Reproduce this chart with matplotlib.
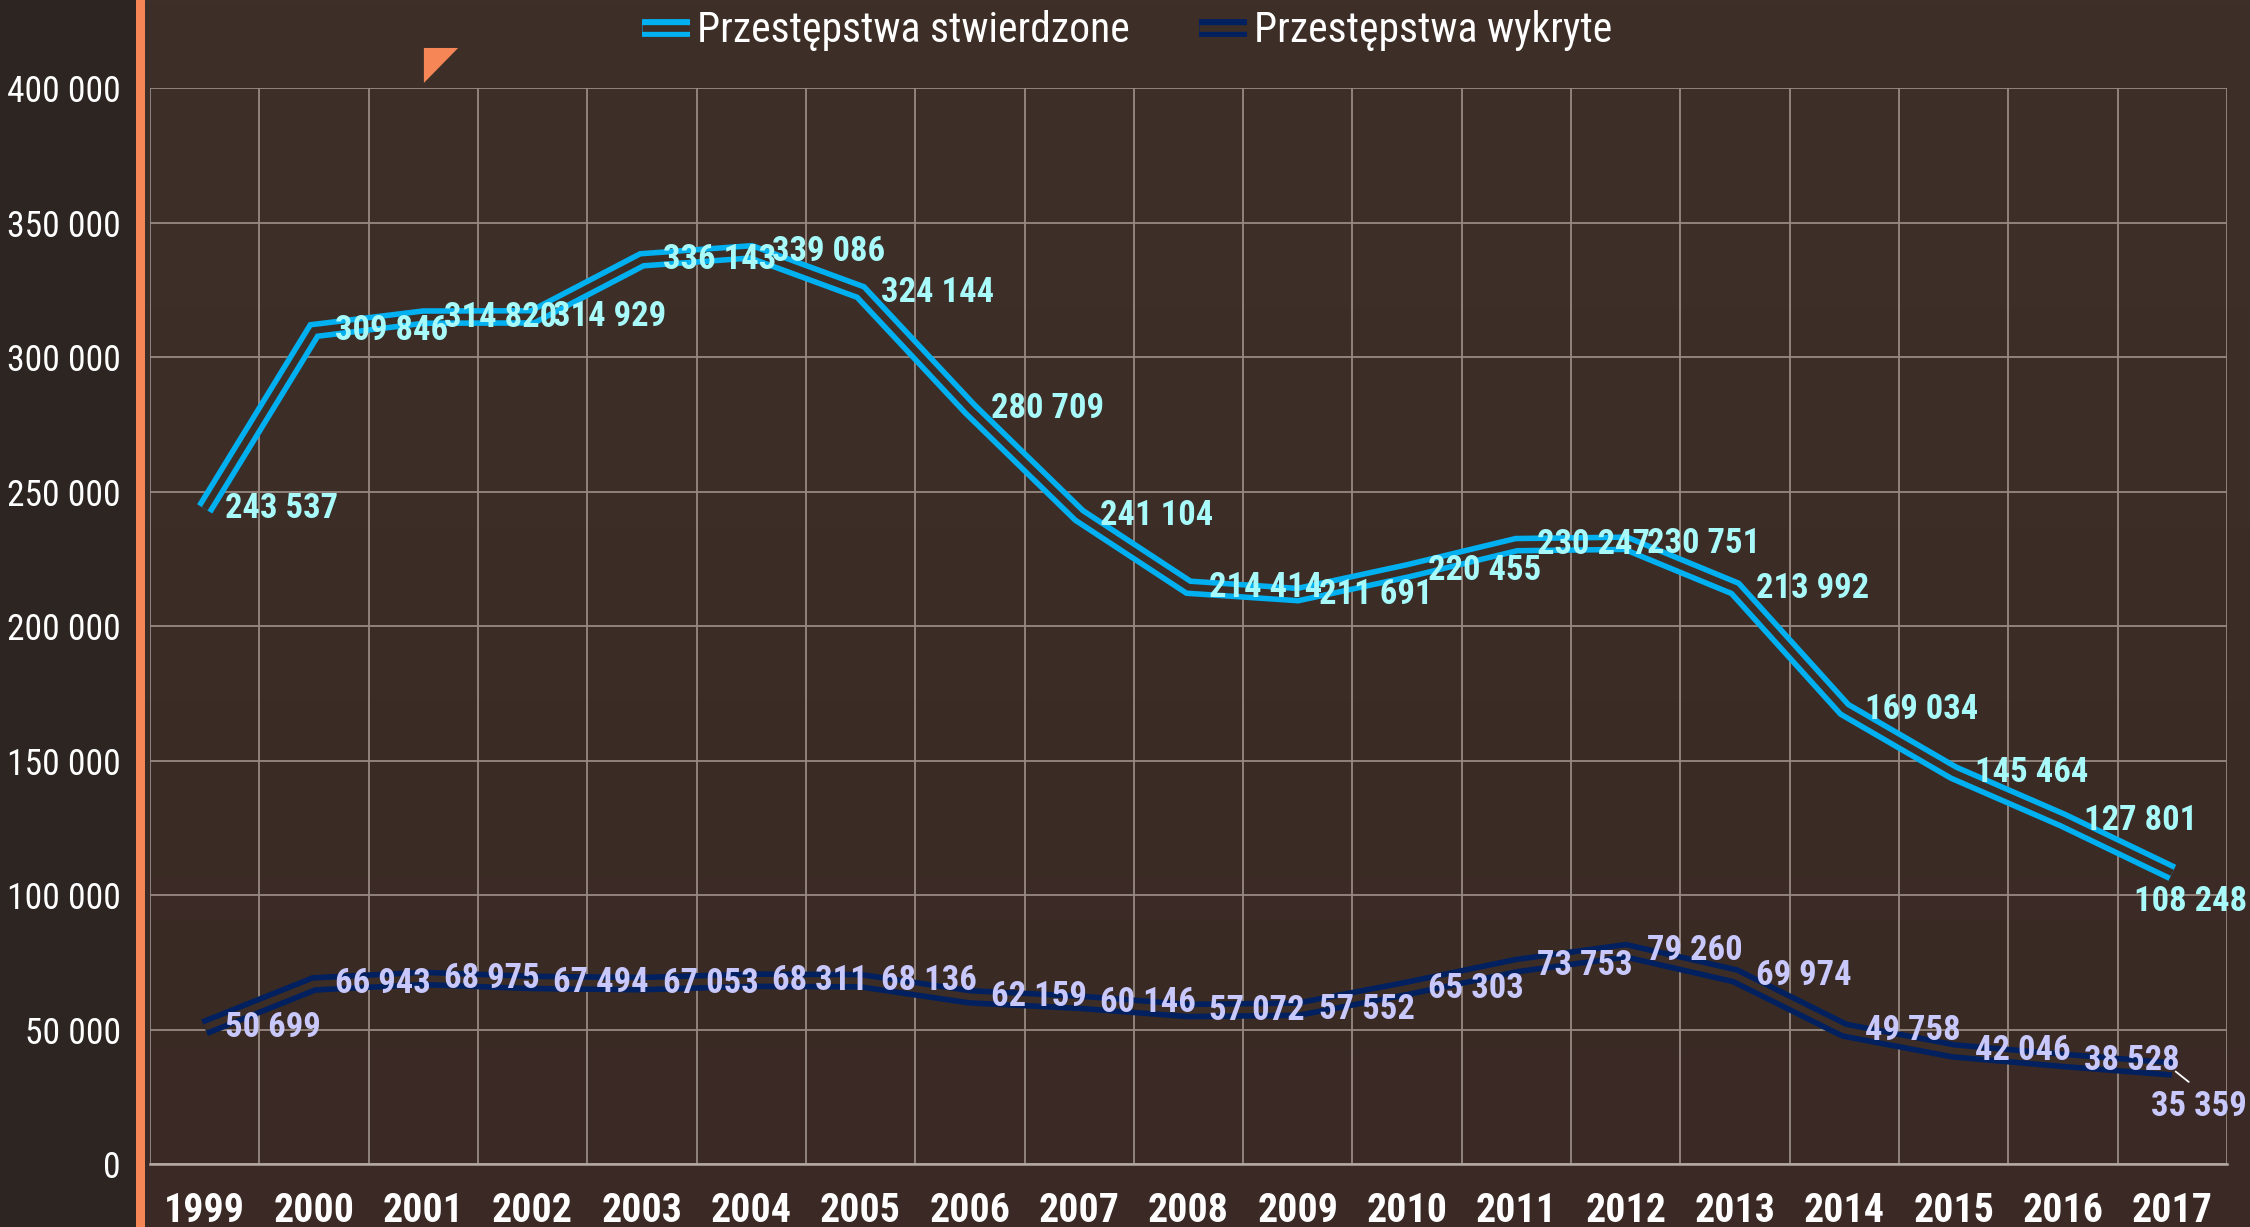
import numpy as np
import matplotlib
matplotlib.use('Agg')
import matplotlib.pyplot as plt
from matplotlib import patheffects as pe
from matplotlib import font_manager as fm
from matplotlib.lines import Line2D
from matplotlib.patches import Rectangle, Polygon
from matplotlib.colors import LinearSegmentedColormap
from matplotlib.ticker import FuncFormatter

# ---------------- data ----------------
years = ['1999', '2000', '2001', '2002', '2003', '2004', '2005', '2006', '2007', '2008',
         '2009', '2010', '2011', '2012', '2013', '2014', '2015', '2016', '2017']
stwierdzone = [243537, 309846, 314820, 314929, 336143, 339086, 324144, 280709, 241104, 214414,
               211691, 220455, 230247, 230751, 213992, 169034, 145464, 127801, 108248]
wykryte = [50699, 66943, 68975, 67494, 67053, 68311, 68136, 62159, 60146, 57072,
           57552, 65303, 73753, 79260, 69974, 49758, 42046, 38528, 35359]
series_names = ['Przestępstwa stwierdzone', 'Przestępstwa wykryte']
yticks = [0, 50000, 100000, 150000, 200000, 250000, 300000, 350000, 400000]

# ---------------- fonts: pick a narrow sans (Arial Narrow look) ----------------
fams = {}
for f in fm.fontManager.ttflist:
    fams.setdefault(f.name, set()).add(f.weight if isinstance(f.weight, int) else 400)
chosen = 'Liberation Sans'
for cand in ['Roboto Condensed', 'PT Sans Narrow', 'Archivo Narrow', 'Barlow Semi Condensed']:
    if cand in fams and any(w >= 600 for w in fams[cand]) and any(w < 600 for w in fams[cand]):
        chosen = cand
        break
plt.rcParams['font.family'] = [chosen, 'Liberation Sans', 'DejaVu Sans']

# ---------------- style ----------------
BG = '#3C2D26'
STRIP = '#2D2521'
ORANGE = '#F68656'
C1 = '#00B0F0'
C2 = '#002060'
LAB1 = '#A8FAFA'
LAB2 = '#C8C8FC'
GRID = '#978A83'
W_TOT = 12.8
W_GAP = 4.8


def fmt(v, pos=None):
    return f'{int(v):,}'.replace(',', ' ')


def double(color):
    return [pe.Stroke(linewidth=W_TOT, foreground=color),
            pe.Stroke(linewidth=W_GAP, foreground=BG)]


fig = plt.figure(figsize=(22.5, 12.27), dpi=100, facecolor=BG)
renderer = fig.canvas.get_renderer()


def fit_size(text, target_px, weight='normal'):
    t = fig.text(0, 0, text, fontsize=20, fontweight=weight)
    w = t.get_window_extent(renderer=renderer).width
    t.remove()
    return 20.0 * target_px / w


FS_Y = fit_size('350 000', 114)
FS_LAB = fit_size('108 248', 113, 'bold')
FS_X = fit_size('1999', 81, 'bold')
FS_LEG = fit_size(series_names[0], 432)

# background gradient
bgax = fig.add_axes([0, 0, 1, 1], zorder=-10)
grad = np.linspace(0, 1, 256).reshape(-1, 1)
cmap = LinearSegmentedColormap.from_list('bg', ['#3E3028', '#3A2924'])
bgax.imshow(grad, aspect='auto', cmap=cmap, extent=[0, 1, 0, 1], origin='upper')
bgax.axis('off')

# left strip, orange bar, small triangle decoration
fig.patches.append(Rectangle((0, 0), 0.0604, 1, transform=fig.transFigure,
                             facecolor=STRIP, edgecolor='none', zorder=-5))
fig.patches.append(Rectangle((0.0604, 0), 0.0041, 1, transform=fig.transFigure,
                             facecolor=ORANGE, edgecolor='none', zorder=-5))
fig.patches.append(Polygon([(0.1884, 0.9609), (0.2036, 0.9609), (0.1884, 0.9324)],
                           closed=True, transform=fig.transFigure,
                           facecolor=ORANGE, edgecolor='none', zorder=-5))

ax = fig.add_axes([0.06667, 0.05134, 0.92311, 0.87694])
ax.set_facecolor('none')

x = np.arange(len(years))
ax.set_xlim(-0.5, len(years) - 0.5)
ax.set_ylim(0, 400000)

# grid
ax.set_yticks(yticks)
ax.yaxis.set_major_formatter(FuncFormatter(fmt))
ax.set_xticks(x)
ax.set_xticklabels(years, fontweight='bold')
ax.set_xticks(np.arange(-0.5, len(years), 1.0), minor=True)
ax.grid(axis='y', which='major', color=GRID, lw=1.3, zorder=0)
ax.grid(axis='x', which='minor', color=GRID, lw=1.3, zorder=0)
ax.set_axisbelow(True)
for s in ['left', 'right', 'top']:
    ax.spines[s].set_visible(False)
ax.spines['bottom'].set_color('#B5AAA4')
ax.spines['bottom'].set_linewidth(1.8)

ax.tick_params(axis='x', which='both', length=0, pad=20, labelsize=FS_X, labelcolor='white')
ax.tick_params(axis='y', length=0, pad=21, labelsize=FS_Y, labelcolor='white')

# lines
ax.plot(x, stwierdzone, color=C1, lw=W_TOT, solid_joinstyle='miter',
        solid_capstyle='butt', path_effects=double(C1), zorder=3)
ax.plot(x, wykryte, color=C2, lw=W_TOT, solid_joinstyle='miter',
        solid_capstyle='butt', path_effects=double(C2), zorder=3)

# data labels
n = len(years)
for i, v in enumerate(stwierdzone):
    if i == n - 1:
        ax.annotate(fmt(v), (x[i], v), xytext=(13, -21), textcoords='offset points',
                    ha='center', va='center', fontsize=FS_LAB, fontweight='bold',
                    color=LAB1, zorder=5)
    else:
        ax.annotate(fmt(v), (x[i], v), xytext=(15, 0), textcoords='offset points',
                    ha='left', va='center', fontsize=FS_LAB, fontweight='bold',
                    color=LAB1, zorder=5)
for i, v in enumerate(wykryte):
    if i == n - 1:
        ax.annotate(fmt(v), (x[i], v), xytext=(19, -27), textcoords='offset points',
                    ha='center', va='center', fontsize=FS_LAB, fontweight='bold',
                    color=LAB2, zorder=5,
                    arrowprops=dict(arrowstyle='-', color='white', lw=1.3,
                                    shrinkA=6, shrinkB=3, relpos=(0.5, 1.0)))
    else:
        ax.annotate(fmt(v), (x[i], v), xytext=(15, 0), textcoords='offset points',
                    ha='left', va='center', fontsize=FS_LAB, fontweight='bold',
                    color=LAB2, zorder=5)

# legend
handles = [Line2D([], [], color=C1, lw=W_TOT, solid_capstyle='butt', path_effects=double(C1)),
           Line2D([], [], color=C2, lw=W_TOT, solid_capstyle='butt', path_effects=double(C2))]
leg = fig.legend(handles, series_names, loc='center', bbox_to_anchor=(0.5009, 0.975),
                 ncol=2, frameon=False, fontsize=FS_LEG, handlelength=34.5 / FS_LEG,
                 handletextpad=5.0 / FS_LEG, columnspacing=50.0 / FS_LEG,
                 borderaxespad=0, borderpad=0)
for t in leg.get_texts():
    t.set_color('white')

fig.savefig('out.png', dpi=100, facecolor=BG)
